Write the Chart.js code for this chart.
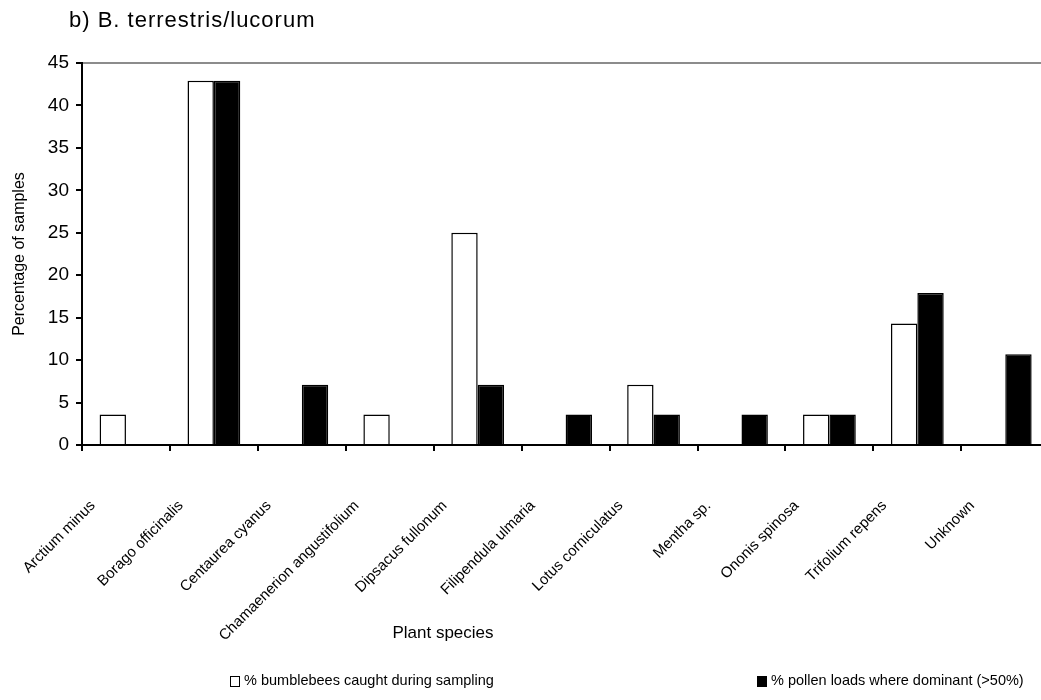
<!DOCTYPE html>
<html><head><meta charset="utf-8">
<script src="https://cdn.jsdelivr.net/npm/chart.js@4.4.1/dist/chart.umd.min.js"></script>
<style>html,body{margin:0;padding:0;overflow:hidden;background:#fff;width:1041px;height:700px}canvas{display:block}</style>
</head><body>
<canvas id="c" width="1064" height="700" style="width:1064px;height:700px"></canvas>
<script>
const chartTitle = 'b) B. terrestris/lucorum';
const xAxisTitle = 'Plant species';
const yAxisTitle = 'Percentage of samples';
const categories = ['Arctium minus','Borago officinalis','Centaurea cyanus','Chamaenerion angustifolium','Dipsacus fullonum','Filipendula ulmaria','Lotus corniculatus','Mentha sp.','Ononis spinosa','Trifolium repens','Unknown'];
const seriesNames = ['% bumblebees caught during sampling','% pollen loads where dominant (>50%)'];
const caughtValues = [3.6, 42.9, 0, 3.6, 25.0, 0, 7.1, 0, 3.6, 14.3, 0];
const pollenValues = [0, 42.9, 7.1, 0, 7.1, 3.6, 3.6, 3.6, 3.6, 17.9, 10.7];
const yMin = 0, yMax = 45, yStep = 5;

const FONT = "'Liberation Sans', Arial, sans-serif";

const decor = {
  id: 'decor',
  beforeDraw(chart) {
    const ctx = chart.ctx;
    ctx.save();
    ctx.fillStyle = '#fff';
    ctx.fillRect(0, 0, chart.width, chart.height);
    ctx.restore();
  },
  afterDraw(chart) {
    const ctx = chart.ctx;
    ctx.save();
    ctx.fillStyle = '#000';
    // chart title
    ctx.font = '22px ' + FONT;
    if ('letterSpacing' in ctx) ctx.letterSpacing = '1px';
    ctx.textAlign = 'left';
    ctx.textBaseline = 'alphabetic';
    ctx.fillText(chartTitle, 69, 27);
    if ('letterSpacing' in ctx) ctx.letterSpacing = '0px';
    // x axis title
    ctx.font = '17px ' + FONT;
    ctx.textAlign = 'center';
    ctx.textBaseline = 'middle';
    ctx.fillText(xAxisTitle, 443, 633);
    // legend
    const ds = chart.data.datasets;
    const items = [{x: 230, ds: ds[0]}, {x: 757, ds: ds[1]}];
    ctx.font = '14.5px ' + FONT;
    ctx.textAlign = 'left';
    items.forEach(it => {
      ctx.fillStyle = it.ds.backgroundColor;
      ctx.fillRect(it.x, 676, 9, 10);
      ctx.strokeStyle = '#000';
      ctx.lineWidth = 1;
      ctx.strokeRect(it.x + 0.5, 676.5, 9, 10);
      ctx.fillStyle = '#000';
      ctx.fillText(it.ds.label, it.x + 14, 681);
    });
    ctx.restore();
  }
};

new Chart(document.getElementById('c'), {
  type: 'bar',
  data: {
    labels: categories,
    datasets: [
      {label: seriesNames[0], data: caughtValues, backgroundColor: '#ffffff', borderColor: '#000000', borderWidth: 1.5},
      {label: seriesNames[1], data: pollenValues, backgroundColor: '#000000', borderColor: '#000000', borderWidth: 1.5}
    ]
  },
  options: {
    responsive: false,
    devicePixelRatio: 1,
    animation: false,
    layout: {padding: {top: 63, right: 0, bottom: 0, left: 0}},
    datasets: {bar: {categoryPercentage: 0.6, barPercentage: 1.0}},
    plugins: {legend: {display: false}, title: {display: false}, tooltip: {enabled: false}},
    scales: {
      x: {
        grid: {display: true, offset: true, drawOnChartArea: false, drawTicks: true, tickLength: 6, tickColor: '#000', lineWidth: 2},
        border: {display: true, color: '#000', width: 2},
        ticks: {autoSkip: false, minRotation: 45, maxRotation: 45, labelOffset: -33, padding: 46, color: '#000', font: {family: FONT, size: 15}},
        afterFit(scale) { scale.height = 255; }
      },
      y: {
        min: yMin, max: yMax,
        grid: {display: true, drawOnChartArea: true, drawTicks: true, tickLength: 6, tickColor: '#000', lineWidth: 2,
               color: c => (c.tick && c.tick.value === yMax) ? '#8c8c8c' : 'rgba(0,0,0,0)'},
        border: {display: true, color: '#000', width: 2},
        ticks: {stepSize: yStep, padding: 7, color: '#000', font: {family: FONT, size: 19}},
        title: {display: true, text: yAxisTitle, color: '#000', font: {family: FONT, size: 16}, padding: {top: 10, bottom: 0}},
        afterFit(scale) { scale.width = 82; }
      }
    }
  },
  plugins: [decor]
});
</script>
</body></html>
